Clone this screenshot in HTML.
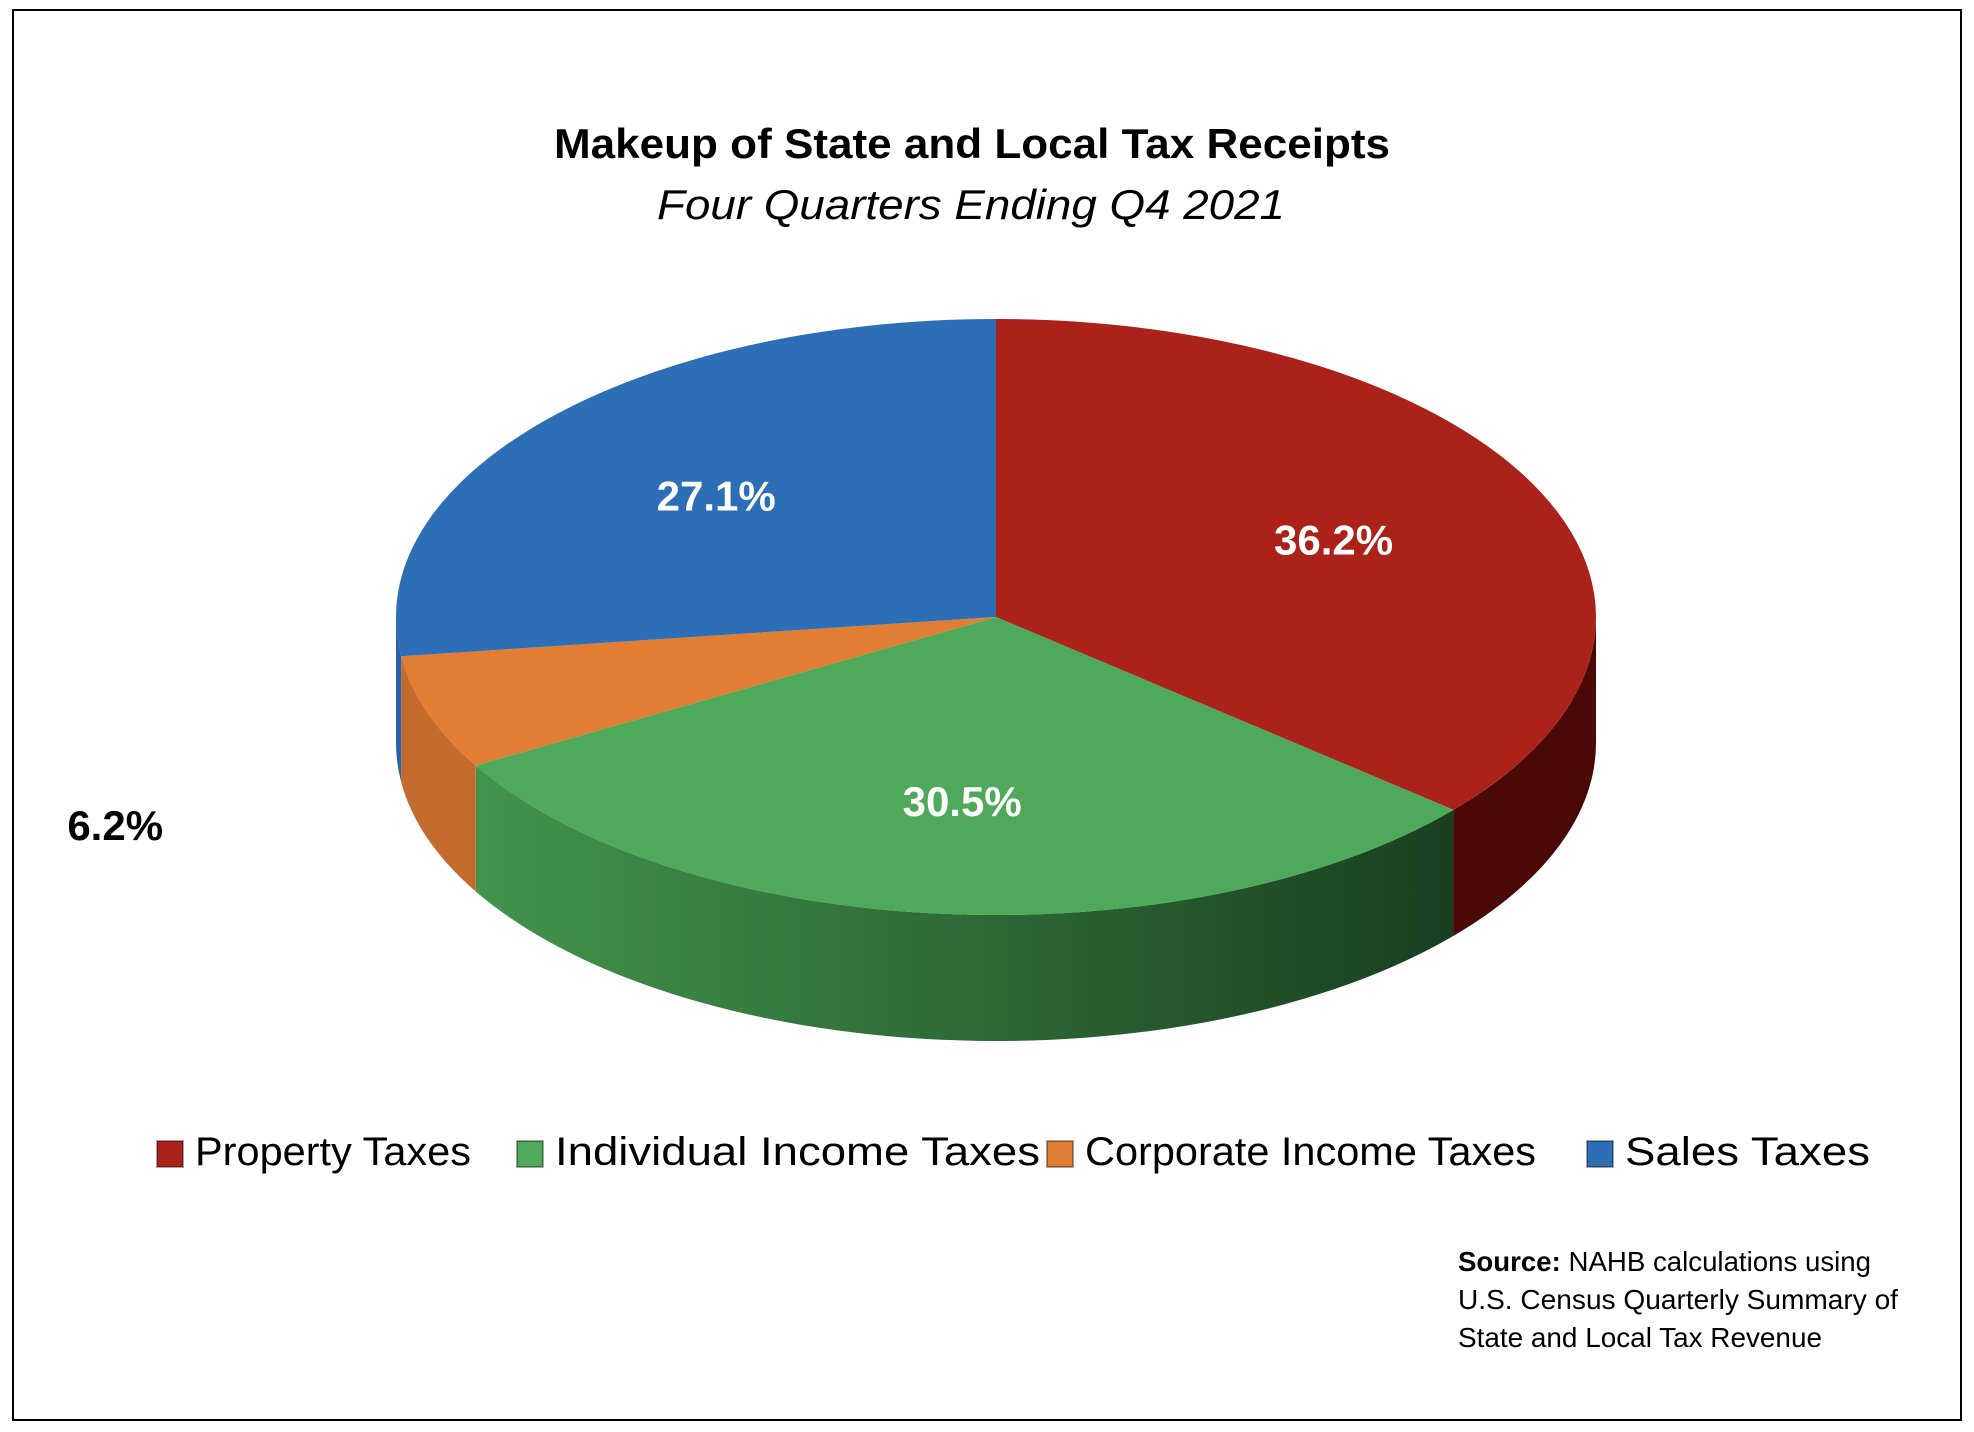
<!DOCTYPE html>
<html><head><meta charset="utf-8"><style>
html,body{margin:0;padding:0;background:#fff;}
svg{display:block;font-family:"Liberation Sans",sans-serif;}
</style></head><body>
<svg id="chart" width="1974" height="1432" viewBox="0 0 1974 1432" xmlns="http://www.w3.org/2000/svg">
<defs>
<linearGradient id="gGreen" x1="0" y1="0" x2="1" y2="0" gradientUnits="objectBoundingBox">
<stop offset="0" stop-color="#43944c"/><stop offset="0.55" stop-color="#2c6634"/><stop offset="1" stop-color="#193f20"/></linearGradient>
</defs>
<rect x="13" y="10" width="1948" height="1410" fill="#fff" stroke="#000" stroke-width="2"/>
<text x="972" y="158" text-anchor="middle" font-size="42" font-weight="bold" textLength="836" lengthAdjust="spacingAndGlyphs">Makeup of State and Local Tax Receipts</text>
<text x="971" y="219" text-anchor="middle" font-size="42" font-style="italic" textLength="628" lengthAdjust="spacingAndGlyphs">Four Quarters Ending Q4 2021</text>
<g id="pie"></g>
<g id="legend"></g>
<g font-size="28">
<text x="1458" y="1271" textLength="413" lengthAdjust="spacingAndGlyphs"><tspan font-weight="bold">Source:</tspan> NAHB calculations using</text>
<text x="1458" y="1309" textLength="440" lengthAdjust="spacingAndGlyphs">U.S. Census Quarterly Summary of</text>
<text x="1458" y="1347" textLength="364" lengthAdjust="spacingAndGlyphs">State and Local Tax Revenue</text>
</g>
</svg>
<script>
const categories = ["Property Taxes","Individual Income Taxes","Corporate Income Taxes","Sales Taxes"];
const values = [36.2, 30.5, 6.2, 27.1];
const valueLabels = ["36.2%","30.5%","6.2%","27.1%"];

const NS="http://www.w3.org/2000/svg";
const topColors=["#ab221a","#4fa95b","#e27d34","#2c6fb6"];
const sideColors=["#4a0806","url(#gGreen)","#c56b2e","#2a62a8"];
const labelColors=["#fff","#fff","#000","#fff"];
const cx=996, cy=617, rx=600, ry=298, depth=126;
const total=values.reduce((a,b)=>a+b,0);
function P(t,dy){const r=t*Math.PI/180;return [cx+rx*Math.sin(r), cy-ry*Math.cos(r)+(dy||0)];}
const pie=document.getElementById('pie');
let acc=0; const ranges=[];
values.forEach(v=>{const a=acc/total*360; acc+=v; ranges.push([a,acc/total*360]);});
// sides
ranges.forEach((r,i)=>{
  const a=Math.max(r[0],90), b=Math.min(r[1],270);
  if(b<=a) return;
  const p1=P(a),p2=P(b),p3=P(b,depth),p4=P(a,depth);
  const lf=(b-a)>180?1:0;
  const el=document.createElementNS(NS,'path');
  el.setAttribute('d',`M${p1} A${rx} ${ry} 0 ${lf} 1 ${p2} L${p3} A${rx} ${ry} 0 ${lf} 0 ${p4} Z`);
  el.setAttribute('fill',sideColors[i]);
  
  
  pie.appendChild(el);
});
// tops
ranges.forEach((r,i)=>{
  const p1=P(r[0]),p2=P(r[1]);
  const lf=(r[1]-r[0])>180?1:0;
  const el=document.createElementNS(NS,'path');
  el.setAttribute('d',`M${cx},${cy} L${p1} A${rx} ${ry} 0 ${lf} 1 ${p2} Z`);
  el.setAttribute('fill',topColors[i]);
  
  
  pie.appendChild(el);
});
// labels
ranges.forEach((r,i)=>{
  const mid=(r[0]+r[1])/2;
  let f=0.62, dy=0;
  if(values[i]/total<0.1){f=1.55; dy=60;}
  const rr=mid*Math.PI/180;
  const x=cx+rx*f*Math.sin(rr), y=cy-ry*f*Math.cos(rr)+dy;
  const t=document.createElementNS(NS,'text');
  t.setAttribute('x',x); t.setAttribute('y',y+15);
  t.setAttribute('text-anchor','middle');
  t.setAttribute('font-size','42'); t.setAttribute('font-weight','bold');
  t.setAttribute('fill',labelColors[i]);
  
  
  t.textContent=valueLabels[i];
  pie.appendChild(t);
});
// legend
const legend=document.getElementById('legend');
const lx=[157,517,1047,1587], lw=[276,485,451,245];
categories.forEach((c,i)=>{
  const g=document.createElementNS(NS,'g');
  
  
  const s=document.createElementNS(NS,'rect');
  s.setAttribute('x',lx[i]); s.setAttribute('y',1141); s.setAttribute('width',26); s.setAttribute('height',26);
  s.setAttribute('fill',topColors[i]); s.setAttribute('stroke','rgba(0,0,0,0.35)'); s.setAttribute('stroke-width','2');
  
  
  g.appendChild(s);
  const t=document.createElementNS(NS,'text');
  t.setAttribute('x',lx[i]+38); t.setAttribute('y',1165); t.setAttribute('font-size','40');
  t.setAttribute('textLength',lw[i]); t.setAttribute('lengthAdjust','spacingAndGlyphs');
  
  
  t.textContent=c;
  g.appendChild(t);
  legend.appendChild(g);
});
</script>
</body></html>
